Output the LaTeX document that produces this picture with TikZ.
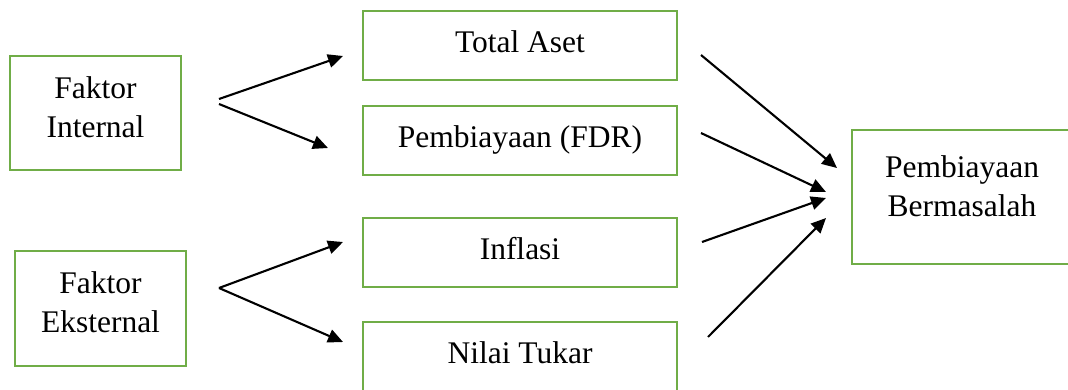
\documentclass[tikz,border=0pt]{standalone}
\usepackage{fontspec}
\setmainfont{Liberation Serif}
\usetikzlibrary{arrows.meta}
\definecolor{boxgreen}{HTML}{70AD47}
\newcommand{\oneline}[1]{\raisebox{-6.5pt}[0pt][0pt]{#1}}
\newcommand{\twolines}[3]{\raisebox{-#3}[0pt][0pt]{\begin{tabular}[b]{@{}c@{}}#1\\#2\end{tabular}}}
\begin{document}
\begin{tikzpicture}[x=1pt,y=-1pt,
  box/.style={draw=boxgreen,line width=2.2pt,fill=white,inner sep=0pt,align=center,
    font=\fontsize{31.5}{39}\selectfont},
  conn/.style={line width=2.1pt,-{Triangle[length=15pt,width=13.5pt]}}]
\useasboundingbox (0,0) rectangle (1068,389);
\begin{scope}
\clip (0,0) rectangle (1068,389);
\node[box,minimum width=171pt,minimum height=114pt] (fi) at (95.5,113) {\twolines{Faktor}{Internal}{24pt}};
\node[box,minimum width=171pt,minimum height=115pt] (fe) at (100.5,308.5) {\twolines{Faktor}{Eksternal}{23.5pt}};
\node[box,minimum width=314pt,minimum height=69pt] (ta) at (520,45.5) {\oneline{Total Aset}};
\node[box,minimum width=314pt,minimum height=69pt] (fdr) at (520,140.5) {\oneline{Pembiayaan (FDR)}};
\node[box,minimum width=314pt,minimum height=69pt] (inf) at (520,252.5) {\oneline{Inflasi}};
\node[box,minimum width=314pt,minimum height=69pt] (nt) at (520,356.5) {\oneline{Nilai Tukar}};
\node[box,minimum width=220pt,minimum height=134pt] (pb) at (962,197) {\twolines{Pembiayaan}{Bermasalah}{19pt}};
\end{scope}
\coordinate (fi1) at (219,99);
\coordinate (fi2) at (219,104);
\coordinate (fe0) at (219,288);
\coordinate (taIn) at (343,56);
\coordinate (fdrIn) at (328,148);
\coordinate (infIn) at (343,242);
\coordinate (ntIn) at (343,342);
\coordinate (taOut) at (701,55);
\coordinate (fdrOut) at (701,133);
\coordinate (infOut) at (702,242);
\coordinate (ntOut) at (708,337);
\coordinate (pb1) at (837,168);
\coordinate (pb2) at (826,192);
\coordinate (pb3) at (826,198);
\coordinate (pb4) at (826,218);
\draw[conn] (fi1) -- (taIn);
\draw[conn] (fi2) -- (fdrIn);
\draw[conn] (fe0) -- (infIn);
\draw[conn] (fe0) -- (ntIn);
\draw[conn] (taOut) -- (pb1);
\draw[conn] (fdrOut) -- (pb2);
\draw[conn] (infOut) -- (pb3);
\draw[conn] (ntOut) -- (pb4);
\end{tikzpicture}
\end{document}
